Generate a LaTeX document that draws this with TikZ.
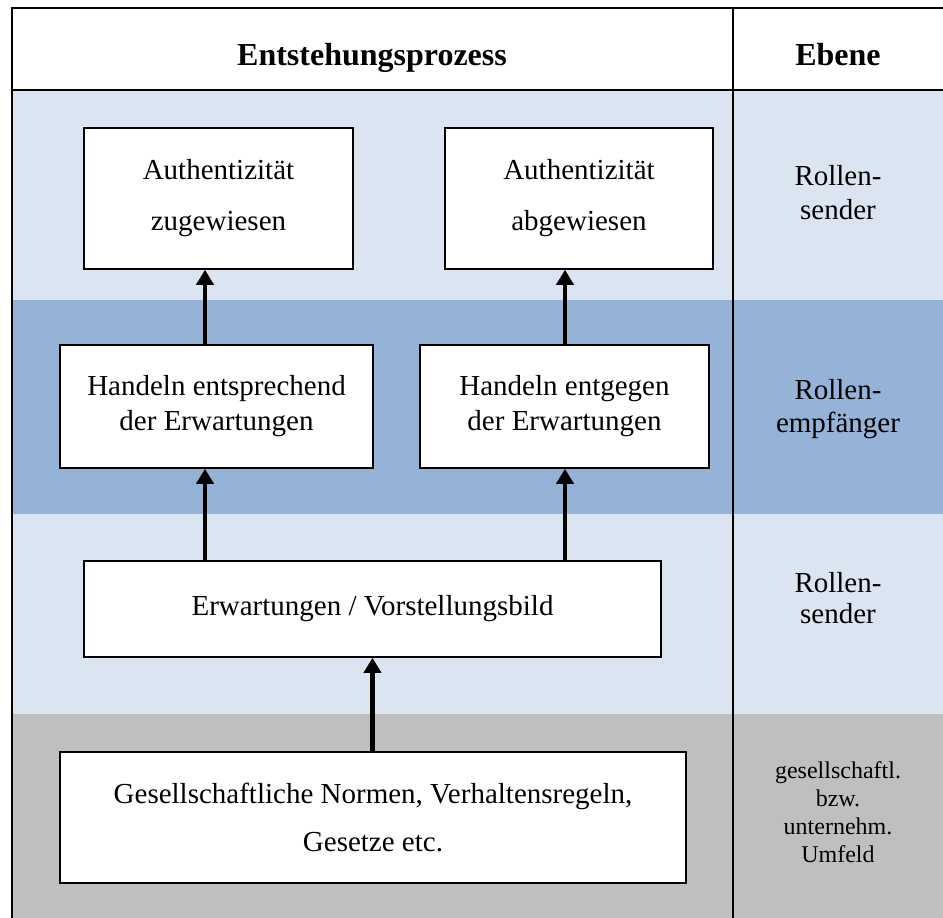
\documentclass[tikz,border=0pt]{standalone}
\usepackage{fontspec}
\setmainfont{Liberation Serif}
\usetikzlibrary{arrows.meta,calc}

\begin{document}
\begin{tikzpicture}[x=1pt,y=-1pt,>={Triangle[width=17pt,length=15pt]},
  stepbox/.style={draw,line width=1.6pt,fill=white,inner sep=0pt,align=center,
    font=\fontsize{29}{35}\selectfont},
  levellabel/.style={align=center,font=\fontsize{29}{34}\selectfont},
  headlabel/.style={anchor=base,font=\fontsize{32}{36}\selectfont\bfseries},
  flow/.style={->,line width=4.5pt}]
\definecolor{bandlight}{RGB}{219,229,241}
\definecolor{bandmid}{RGB}{149,179,215}
\definecolor{bandgray}{RGB}{191,191,191}

\useasboundingbox (0,0) rectangle (943,918);

% Horizontal bands behind both columns.
\fill[bandlight] (12,90) rectangle (943,300);
\fill[bandmid] (12,300) rectangle (943,514);
\fill[bandlight] (12,514) rectangle (943,714);
\fill[bandgray] (12,714) rectangle (943,918);

% Table frame: header row, left border and column divider.
\draw[line width=1.6pt] (12,918) -- (12,8) -- (943,8);
\draw[line width=1.6pt] (12,90) -- (943,90);
\draw[line width=1.6pt] (733,8) -- (733,918);

% Column headings.
\node[headlabel] (hproc) at (372,65) {Entstehungsprozess};
\node[headlabel] (hlevel) at (838,65) {Ebene};

% Process steps.
\node[stepbox,minimum width=269pt,minimum height=141pt,font=\fontsize{29}{51}\selectfont]
  (zug) at (218.5,198.5) {Authentizität\\zugewiesen};
\node[stepbox,minimum width=268pt,minimum height=141pt,font=\fontsize{29}{51}\selectfont]
  (abg) at (579,198.5) {Authentizität\\abgewiesen};
\node[stepbox,minimum width=313pt,minimum height=123pt]
  (entspr) at (216.5,406.5) {Handeln entsprechend\\der Erwartungen};
\node[stepbox,minimum width=289pt,minimum height=123pt]
  (entgeg) at (564.5,406.5) {Handeln entgegen\\der Erwartungen};
\node[stepbox,minimum width=577pt,minimum height=96pt]
  (erw) at (372.5,609) {Erwartungen / Vorstellungsbild};
\node[stepbox,minimum width=626pt,minimum height=131pt,font=\fontsize{29}{48}\selectfont]
  (ges) at (373,817.5) {Gesellschaftliche Normen, Verhaltensregeln,\\Gesetze etc.};

% Arrow columns.
\coordinate (colL) at (205,0);
\coordinate (colR) at (565,0);

\draw[flow] (entspr.north -| colL) -- (zug.south -| colL);
\draw[flow] (entgeg.north -| colR) -- (abg.south -| colR);
\draw[flow] (erw.north -| colL) -- (entspr.south -| colL);
\draw[flow] (erw.north -| colR) -- (entgeg.south -| colR);
\draw[flow] (ges.north -| erw.south) -- (erw.south);

% Level labels.
\node[levellabel] (lev1) at (838,193) {Rollen-\\sender};
\node[levellabel,font=\fontsize{29}{33}\selectfont] (lev2) at (838,409) {Rollen-\\empfänger};
\node[levellabel,font=\fontsize{29}{31}\selectfont] (lev3) at (838,598) {Rollen-\\sender};
\node[levellabel,font=\fontsize{24}{28}\selectfont] (lev4) at (838,812)
  {gesellschaftl.\\bzw.\\unternehm.\\Umfeld};
\end{tikzpicture}
\end{document}
